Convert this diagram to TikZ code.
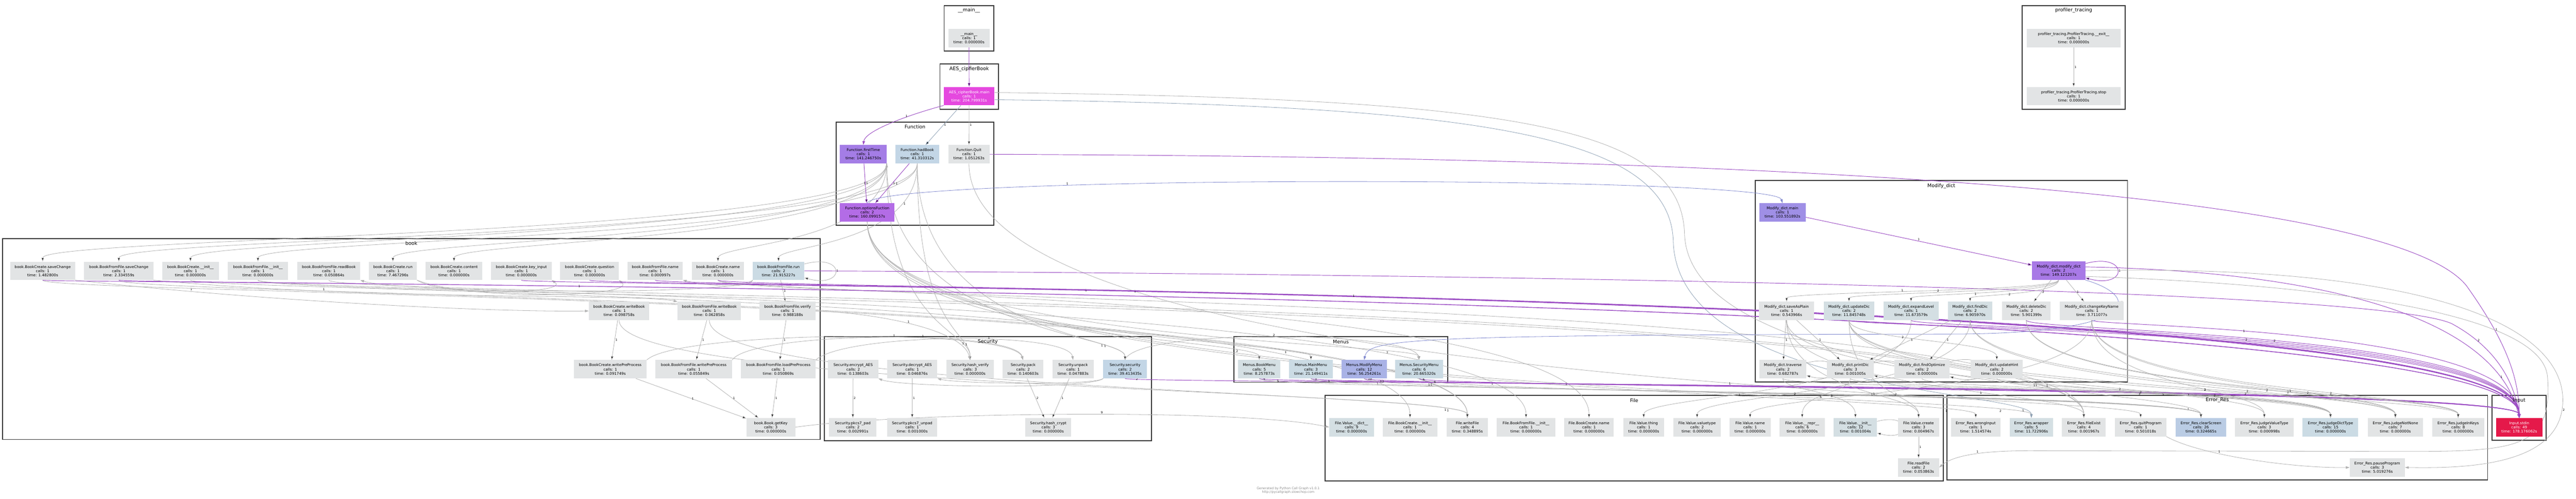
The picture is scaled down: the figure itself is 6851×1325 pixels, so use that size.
\documentclass[tikz,border=0pt]{standalone}
\usepackage{fontspec}
\setmainfont{DejaVu Sans}
\usetikzlibrary{arrows.meta}
\definecolor{ngrey}{HTML}{E2E4E5}
\definecolor{nblue1}{HTML}{D4DFE3}
\definecolor{nblue2}{HTML}{CBDBE4}
\definecolor{nblue3}{HTML}{C3D6E6}
\definecolor{nclear}{HTML}{BACCE4}
\definecolor{nmodmenu}{HTML}{A9B2E6}
\definecolor{nmdtop}{HTML}{9F8FE6}
\definecolor{nfirst}{HTML}{A47DE6}
\definecolor{nmdmod}{HTML}{A879E6}
\definecolor{nopt}{HTML}{B36CE6}
\definecolor{naes}{HTML}{E548DF}
\definecolor{nstdin}{HTML}{E5194A}
\definecolor{egrey}{HTML}{B2B2B2}
\definecolor{epurple}{HTML}{9C4DC4}
\definecolor{eslate}{HTML}{8FA2B6}
\definecolor{eblue}{HTML}{8088CF}
\definecolor{cframe}{HTML}{383838}
\pgfdeclarelayer{back}
\pgfdeclarelayer{links}
\pgfsetlayers{back,links,main}
\begin{document}
\begin{tikzpicture}[x=1pt, y=-1pt,
    fn/.style={rectangle, fill=ngrey, minimum height=49, inner sep=0, align=center, font=\fontsize{9.9}{11}\selectfont},
    clus/.style={draw=cframe, line width=2.4},
    clab/.style={font=\fontsize{13}{15}\selectfont},
    wire/.style={draw=egrey, line width=1.1, -{Triangle[length=10pt,width=6.5pt]}},
    wirep/.style={wire, draw=epurple, line width=1.3},
    wiresl/.style={wire, draw=eslate},
    wireb/.style={wire, draw=eblue},
    lab/.style={font=\fontsize{8}{9}\selectfont, inner sep=1.5, right},
    chan/.style={to path={.. controls (\tikztostart |- 0,#1) and (\tikztotarget |- 0,#1) .. (\tikztotarget) \tikztonodes}},
    every loop/.style={min distance=18}]
\useasboundingbox (0,0) rectangle (6851,1325);

\begin{pgfonlayer}{back}
\fill [white] (0,0) rectangle (6851,1325);
\draw [clus] (2511,15) rectangle (2643,136);
\draw [clus] (2500,170) rectangle (2655,290);
\draw [clus] (2224,325) rectangle (2643,599);
\draw [clus] (7,634) rectangle (2181,1168);
\draw [clus] (2192,895) rectangle (3062,1171);
\draw [clus] (3282,895) rectangle (3850,1016);
\draw [clus] (3524,1051) rectangle (5168,1278);
\draw [clus] (4668,480) rectangle (5658,1015);
\draw [clus] (5178,1051) rectangle (6616,1276);
\draw [clus] (6628,1051) rectangle (6771,1170);
\draw [clus] (5378,15) rectangle (5652,290);
\end{pgfonlayer}

\node (tMain) [clab] at (2577,28) {\_\_main\_\_};
\node (tAES) [clab] at (2577.5,183) {AES\_cipherBook};
\node (tFunc) [clab] at (2433.5,337) {Function};
\node (tBook) [clab] at (1094,647) {book};
\node (tSec) [clab] at (2627,908) {Security};
\node (tMenus) [clab] at (3566,908) {Menus};
\node (tFile) [clab] at (4346,1064) {File};
\node (tMod) [clab] at (5163,494) {Modify\_dict};
\node (tErr) [clab] at (5897,1064) {Error\_Res};
\node (tIn) [clab] at (6699.5,1064) {Input};
\node (tProf) [clab] at (5515,28) {profiler\_tracing};

\node (nmain) [fn, minimum width=110] at (2577,101) {\_\_main\_\_\\calls: 1\\time: 0.000000s};
\node (aes) [fn, fill=naes, text=white, minimum width=135] at (2577.5,255.5) {AES\_cipherBook.main\\calls: 1\\time: 204.799931s};
\node (first) [fn, fill=nfirst, minimum width=124] at (2296,410) {Function.firstTime\\calls: 1\\time: 141.246750s};
\node (had) [fn, fill=nblue3, minimum width=117] at (2439.5,410) {Function.hadBook\\calls: 1\\time: 41.310312s};
\node (quit) [fn, minimum width=110] at (2577,410) {Function.Quit\\calls: 1\\time: 1.051263s};
\node (opt) [fn, fill=nopt, minimum width=145] at (2306.5,564.5) {Function.optionsFuction\\calls: 2\\time: 160.099157s};

\node (ptA) [fn, minimum width=250] at (5515,101) {profiler\_tracing.ProfilerTracing.\_\_exit\_\_\\calls: 1\\time: 0.000000s};
\node (ptB) [fn, minimum width=250] at (5515,255.5) {profiler\_tracing.ProfilerTracing.stop\\calls: 1\\time: 0.000000s};

\node (bkcsave) [fn, minimum width=173] at (113.5,720) {book.BookCreate.saveChange\\calls: 1\\time: 1.482800s};
\node (bkfsave) [fn, minimum width=184] at (316,720) {book.BookFromFile.saveChange\\calls: 1\\time: 2.334559s};
\node (bkcinit) [fn, minimum width=151] at (506.5,720) {book.BookCreate.\_\_init\_\_\\calls: 1\\time: 0.000000s};
\node (bkfinit) [fn, minimum width=160] at (686,720) {book.BookFromFile.\_\_init\_\_\\calls: 1\\time: 0.000000s};
\node (bkfread) [fn, minimum width=167] at (874.5,720) {book.BookFromFile.readBook\\calls: 1\\time: 0.050864s};
\node (bkcrun) [fn, minimum width=128] at (1045,720) {book.BookCreate.run\\calls: 1\\time: 7.467296s};
\node (bkccont) [fn, minimum width=151] at (1207.5,720) {book.BookCreate.content\\calls: 1\\time: 0.000000s};
\node (bkckey) [fn, minimum width=161] at (1386.5,720) {book.BookCreate.key\_input\\calls: 1\\time: 0.000000s};
\node (bkcques) [fn, minimum width=156] at (1568,720) {book.BookCreate.question\\calls: 1\\time: 0.000000s};
\node (bkfname) [fn, minimum width=147] at (1742.5,720) {book.BookFromFile.name\\calls: 1\\time: 0.000997s};
\node (bkcname) [fn, minimum width=139] at (1909.5,720) {book.BookCreate.name\\calls: 1\\time: 0.000000s};
\node (bkfrun) [fn, fill=nblue2, minimum width=137] at (2070.5,720) {book.BookFromFile.run\\calls: 2\\time: 21.915227s};
\node (bkcwrite) [fn, minimum width=161] at (1646.5,826.5) {book.BookCreate.writeBook\\calls: 1\\time: 0.098758s};
\node (bkfwrite) [fn, minimum width=169] at (1886.5,826.5) {book.BookFromFile.writeBook\\calls: 1\\time: 0.062858s};
\node (bkfver) [fn, minimum width=149] at (2094.5,826.5) {book.BookFromFile.verify\\calls: 1\\time: 0.988188s};
\node (bkcpre) [fn, minimum width=194] at (1623,981.5) {book.BookCreate.writePreProcess\\calls: 1\\time: 0.091749s};
\node (bkfpre) [fn, minimum width=204] at (1845,981.5) {book.BookFromFile.writePreProcess\\calls: 1\\time: 0.055849s};
\node (bkfload) [fn, minimum width=198] at (2070,981.5) {book.BookFromFile.loadPreProcess\\calls: 1\\time: 0.050869s};
\node (bkx) [fn, minimum width=130] at (2050,1135.5) {book.Book.getKey\\calls: 3\\time: 0.000000s};

\node (secenc) [fn, minimum width=134] at (2269,981.5) {Security.encrypt\_AES\\calls: 2\\time: 0.138603s};
\node (secdec) [fn, minimum width=134] at (2426,981.5) {Security.decrypt\_AES\\calls: 1\\time: 0.046876s};
\node (sechver) [fn, minimum width=126] at (2580,981.5) {Security.hash\_verify\\calls: 3\\time: 0.000000s};
\node (secpack) [fn, minimum width=108] at (2721,981.5) {Security.pack\\calls: 2\\time: 0.140603s};
\node (secunpack) [fn, minimum width=110] at (2854,981.5) {Security.unpack\\calls: 1\\time: 0.047883s};
\node (secsec) [fn, fill=nblue3, minimum width=116] at (2992,981.5) {Security.security\\calls: 2\\time: 39.413435s};
\node (secpad) [fn, minimum width=126] at (2268,1135.5) {Security.pkcs7\_pad\\calls: 2\\time: 0.002991s};
\node (secunpad) [fn, minimum width=134] at (2426,1135.5) {Security.pkcs7\_unpad\\calls: 1\\time: 0.001000s};
\node (sechcrypt) [fn, minimum width=122] at (2788,1135.5) {Security.hash\_crypt\\calls: 3\\time: 0.000000s};

\node (mnbook) [fn, fill=nblue1, minimum width=112] at (3349,981.5) {Menus.BookMenu\\calls: 5\\time: 8.257873s};
\node (mnmain) [fn, fill=nblue2, minimum width=117] at (3486.5,981.5) {Menus.MainMenu\\calls: 3\\time: 21.149411s};
\node (mnmod) [fn, fill=nmodmenu, minimum width=120] at (3628,981.5) {Menus.ModifyMenu\\calls: 12\\time: 56.254261s};
\node (mnsec) [fn, fill=nblue2, minimum width=128] at (3774,981.5) {Menus.SecurityMenu\\calls: 6\\time: 20.665320s};

\node (flvdict) [fn, fill=nblue1, minimum width=119] at (3594.5,1135.5) {File.Value.\_\_dict\_\_\\calls: 9\\time: 0.000000s};
\node (flcinit) [fn, minimum width=146] at (3750,1135.5) {File.BookCreate.\_\_init\_\_\\calls: 1\\time: 0.000000s};
\node (flwrite) [fn, minimum width=109] at (3902.5,1135.5) {File.writeFile\\calls: 4\\time: 0.348895s};
\node (flfinit) [fn, minimum width=155] at (4058.5,1135.5) {File.BookFromFile.\_\_init\_\_\\calls: 1\\time: 0.000000s};
\node (flcname) [fn, minimum width=132] at (4226,1135.5) {File.BookCreate.name\\calls: 1\\time: 0.000000s};
\node (flvthing) [fn, minimum width=109] at (4371.5,1135.5) {File.Value.thing\\calls: 1\\time: 0.000000s};
\node (flvtype) [fn, minimum width=125] at (4513.5,1135.5) {File.Value.valuetype\\calls: 2\\time: 0.000000s};
\node (flvname) [fn, minimum width=109] at (4654.5,1135.5) {File.Value.name\\calls: 1\\time: 0.000000s};
\node (flvrepr) [fn, minimum width=120] at (4793,1135.5) {File.Value.\_\_repr\_\_\\calls: 6\\time: 0.000000s};
\node (flvinit) [fn, fill=nblue1, minimum width=115] at (4934.5,1135.5) {File.Value.\_\_init\_\_\\calls: 12\\time: 0.001004s};
\node (flvcreate) [fn, minimum width=109] at (5102.5,1135.5) {File.Value.create\\calls: 3\\time: 0.004967s};
\node (flread) [fn, minimum width=109] at (5102.5,1242.5) {File.readFile\\calls: 2\\time: 0.053863s};

\node (mtop) [fn, fill=nmdtop, minimum width=123] at (4740.5,564.5) {Modify\_dict.main\\calls: 1\\time: 103.551892s};
\node (mmod) [fn, fill=nmdmod, minimum width=142] at (5475,719.5) {Modify\_dict.modify\_dict\\calls: 2\\time: 149.121207s};
\node (msave) [fn, minimum width=147] at (4751.5,826.5) {Modify\_dict.saveAsPlain\\calls: 1\\time: 0.543966s};
\node (mupd) [fn, fill=nblue1, minimum width=135] at (4917.5,826.5) {Modify\_dict.updateDic\\calls: 2\\time: 11.845748s};
\node (mexp) [fn, fill=nblue1, minimum width=147] at (5082.5,826.5) {Modify\_dict.expandLevel\\calls: 1\\time: 11.673579s};
\node (mfind) [fn, fill=nblue1, minimum width=117] at (5239.5,826.5) {Modify\_dict.findDic\\calls: 2\\time: 6.905970s};
\node (mdel) [fn, minimum width=130] at (5389,826.5) {Modify\_dict.deleteDic\\calls: 2\\time: 5.901399s};
\node (mchkey) [fn, minimum width=170] at (5563,826.5) {Modify\_dict.changeKeyName\\calls: 1\\time: 3.711077s};
\node (mtrav) [fn, minimum width=125] at (4741.5,981.5) {Modify\_dict.traverse\\calls: 2\\time: 0.682787s};
\node (mprint) [fn, minimum width=124] at (4921,981.5) {Modify\_dict.printDic\\calls: 3\\time: 0.001005s};
\node (mfopt) [fn, minimum width=147] at (5111.5,981.5) {Modify\_dict.findOptimize\\calls: 2\\time: 0.000000s};
\node (mhint) [fn, minimum width=139] at (5310.5,981.5) {Modify\_dict.updateHint\\calls: 2\\time: 0.000000s};

\node (erwrong) [fn, minimum width=131] at (5254.5,1135.5) {Error\_Res.wrongInput\\calls: 1\\time: 1.514574s};
\node (erwrap) [fn, fill=nblue1, minimum width=115] at (5402.5,1135.5) {Error\_Res.wrapper\\calls: 5\\time: 11.722906s};
\node (erexist) [fn, minimum width=116] at (5542,1135.5) {Error\_Res.fileExist\\calls: 4\\time: 0.001967s};
\node (erquit) [fn, minimum width=136] at (5693,1135.5) {Error\_Res.quitProgram\\calls: 1\\time: 0.501018s};
\node (erclear) [fn, fill=nclear, minimum width=135] at (5853.5,1135.5) {Error\_Res.clearScreen\\calls: 26\\time: 0.324665s};
\node (erjval) [fn, minimum width=156] at (6022,1135.5) {Error\_Res.judgeValueType\\calls: 3\\time: 0.000998s};
\node (erjdict) [fn, fill=nblue2, minimum width=148] at (6198,1135.5) {Error\_Res.judgeDictType\\calls: 15\\time: 0.000000s};
\node (erjnone) [fn, minimum width=147] at (6370.5,1135.5) {Error\_Res.judgeNotNone\\calls: 7\\time: 0.000000s};
\node (erjkeys) [fn, minimum width=139] at (6537.5,1135.5) {Error\_Res.judgeInKeys\\calls: 8\\time: 0.000000s};
\node (erpause) [fn, minimum width=147] at (6322.5,1242.5) {Error\_Res.pauseProgram\\calls: 3\\time: 5.019276s};

\node (instdin) [fn, fill=nstdin, text=white, minimum width=124] at (6700,1135.5) {Input.stdin\\calls: 49\\time: 178.176062s};

\node (credit) [font=\fontsize{8.5}{10}\selectfont, text=black!45, align=center] at (3426,1303) {Generated by Python Call Graph v1.0.1\\http://pycallgraph.slowchop.com};

\begin{pgfonlayer}{links}
\path [wire] (first.south east) edge [chan=628] node [lab, pos=.1] {1} (bkcsave)
             (first.south east) edge [chan=632] (bkcinit)
             (first.south east) edge [chan=636] (bkcrun)
             (first.south east) edge [chan=640] (bkccont)
             (first.south east) edge [chan=648] (bkcname)
             (had) edge [chan=630] node [lab, pos=.1] {1} (bkfsave)
             (had) edge [chan=634] (bkfinit)
             (had) edge [chan=652] node [lab, pos=.2] {1} (bkfrun)
             (opt) edge [chan=900] node [lab, pos=.85] {2} (mnbook)
             (opt) edge [chan=905] node [lab, pos=.85] {1} (mnmain)
             (opt) edge [chan=910] node [lab, pos=.85] {2} (mnsec)
             (opt) edge [chan=1045] node [lab, pos=.9] {1} (erwrong)
             (opt) edge [chan=1047] node [lab, pos=.9] {2} (erwrap)
             (first.south east) edge [chan=875] node [lab, pos=.8] {1} (sechver)
             (had) edge [chan=880] node [lab, pos=.8] {1} (sechver)
             (first.south east) edge [chan=885] node [lab, pos=.8] {1} (secsec)
             (had) edge [chan=890] node [lab, pos=.8] {1} (secsec)
             (quit) edge [chan=1045] node [lab, pos=.6] {1} (erquit);

\path [wire] (bkfrun) edge [loop right] node [lab] {1} ()
             (bkfrun) edge node [lab] {1} (bkfver)
             (bkfver) edge node [lab] {1} (bkfload)
             (bkcwrite) edge node [lab] {1} (bkcpre)
             (bkfwrite) edge node [lab] {1} (bkfpre)
             (bkcpre) edge node [lab] {1} (bkx)
             (bkfpre) edge node [lab] {1} (bkx)
             (bkfload) edge node [lab] {1} (bkx)
             (secenc) edge node [lab] {2} (secpad)
             (secdec) edge node [lab] {1} (secunpad)
             (secpack) edge node [lab] {2} (sechcrypt)
             (secunpack) edge node [lab] {1} (sechcrypt)
             (flvcreate) edge node [lab] {1} (flread)
             (flvinit) edge [loop right] node [lab] {6} ()
             (ptA) edge node [lab] {1} (ptB);

\draw [wire] (bkfrun.south west) .. controls (1950,790) and (1050,775) .. (bkfread.south east);
\draw [wire] (bkfrun.south west) .. controls (1990,768) and (1880,760) .. (bkfname.south east);
\draw [wire] (bkcrun.south east) .. controls (1180,790) and (1520,780) .. (bkckey.south east);
\draw [wire] (bkcrun.south east) .. controls (1250,800) and (1700,790) .. (bkcques.south east);
\draw [wire] (bkcsave.south east) .. controls (700,800) and (1300,830) .. node [lab, pos=.2, above] {1} (bkcwrite.west);
\draw [wire] (bkfsave.south east) .. controls (1000,800) and (1700,780) .. node [lab, pos=.25, above] {1} (bkfwrite.north west);
\draw [wire] (bkcpre.north east) .. controls (1800,880) and (2690,870) .. node [lab, pos=.6, above] {1} (secpack.north);
\draw [wire] (bkfpre.north east) .. controls (2000,880) and (2700,875) .. node [lab, pos=.6, above] {1} (secpack.north);
\draw [wire] (bkfload.north east) .. controls (2250,885) and (2840,880) .. node [lab, pos=.6, above] {1} (secunpack.north);
\draw [wire] (bkfver.east) .. controls (2300,830) and (2560,870) .. node [lab, pos=.5, above] {1} (sechver.north);
\draw [wire] (secsec.south west) .. controls (2900,1035) and (2400,1030) .. (secenc.south east);
\draw [wire] (secsec.south west) .. controls (2910,1025) and (2550,1020) .. (secdec.south east);
\draw [wire] (secsec.north) .. controls (3020,870) and (3760,880) .. node [lab, pos=.5, above] {2} (mnsec.north);
\draw [wire] (bkx.east) .. controls (2400,1095) and (3300,1085) .. node [lab, pos=.55, above] {9} (flvdict.west);

\path [wire] (bkcinit) edge [chan=775] node [lab, pos=.9] {1} (flcinit)
             (bkfinit) edge [chan=778] node [lab, pos=.9] {1} (flfinit)
             (bkcname) edge [chan=781] node [lab, pos=.9] {1} (flcname)
             (bkcwrite) edge [chan=1036] node [lab, pos=.9] {1} (flwrite)
             (bkfwrite) edge [chan=1040] node [lab, pos=.9] {1} (flwrite)
             (bkcsave) edge [chan=784] node [lab, pos=.9] {1} (flwrite)
             (bkfsave) edge [chan=787] node [lab, pos=.9] {1} (flwrite)
             (bkfread) edge [chan=790] node [lab, pos=.9] {1} (erexist)
             (bkfinit) edge [chan=793] node [lab, pos=.9] {1} (erexist)
             (bkcname) edge [chan=796] node [lab, pos=.9] {1} (erexist);

\path [wirep] (nmain) edge node [lab] {1} (aes)
              (first) edge node [lab] {1} (opt)
              (had) edge node [lab] {1} (opt)
              (mtop) edge node [lab, above] {1} (mmod)
              (mmod) edge [loop right] node [lab] {1} ();
\draw [wirep] (aes.south west) .. controls (2400,310) and (2300,350) .. node [lab, pos=.3, left] {1} (first.north);
\path [wiresl] (aes) edge node [lab] {1} (had);
\path [wire] (aes) edge node [lab] {1} (quit);
\draw [wireb] (opt.north) .. controls (2330,465) and (4720,465) .. node [lab, pos=.3, above] {1} (mtop.north);
\draw [wire] (aes.8) .. controls (4000,262) and (4470,330) .. (4480,620) .. controls (4490,1040) and (5853,1030) .. node [lab, pos=.9] {1} (erclear.north);
\draw [wiresl] (aes.-8) .. controls (3900,280) and (4440,350) .. (4450,640) .. controls (4460,1045) and (5402,1040) .. node [lab, pos=.9] {1} (erwrap.north);
\draw [wirep] (quit.east) .. controls (3600,415) and (6300,430) .. (6560,760) .. controls (6660,900) and (6700,1000) .. node [lab, pos=.3] {1} (instdin.north);

\path [wirep] (bkcsave) edge [chan=755] node [lab, pos=.3] {1} (instdin)
              (bkfsave) edge [chan=758] (instdin)
              (bkckey) edge [chan=762] node [lab, pos=.35] {1} (instdin)
              (bkcques) edge [chan=765] node [lab, pos=.35] {1} (instdin)
              (bkfname) edge [chan=768] (instdin)
              (bkcname) edge [chan=771] node [lab, pos=.4] {1} (instdin)
              (mnbook) edge [chan=1022] node [lab, pos=.03] {5} (instdin)
              (mnmain) edge [chan=1025] node [lab, pos=.03] {3} (instdin)
              (mnmod) edge [chan=1028] node [lab, pos=.03] {12} (instdin)
              (mnsec) edge [chan=1031] node [lab, pos=.03] {6} (instdin)
              (secsec) edge [chan=1019] node [lab, pos=.05] {2} (instdin)
              (mupd) edge [chan=872] (instdin)
              (mexp) edge [chan=875] (instdin)
              (mfind) edge [chan=878] node [lab, pos=.5] {2} (instdin)
              (mdel) edge [chan=881] node [lab, pos=.5] {2} (instdin)
              (mchkey) edge [chan=868] node [lab, pos=.4] {1} (instdin);
\draw [wirep] (bkfrun.east) .. controls (2600,722) and (6250,740) .. (6520,860) .. controls (6650,930) and (6690,1030) .. node [lab, pos=.2] {2} (instdin.north);
\draw [wirep] (mmod.8) .. controls (6200,722) and (6640,850) .. node [lab, pos=.85] {1} (instdin.north);

\path [wire] (mnbook) edge [chan=1038] node [lab, pos=.08] {5} (erclear)
             (mnmain) edge [chan=1041] node [lab, pos=.08] {3} (erclear)
             (mnmod) edge [chan=1044] node [lab, pos=.08] {12} (erclear)
             (mnsec) edge [chan=1047] node [lab, pos=.08] {6} (erclear);
\draw [wireb] (mmod.south east) .. controls (5700,790) and (5690,885) .. node [lab, pos=.35] {12} (5200,888) .. controls (3750,890) and (3640,900) .. (mnmod.north);

\path [wire] (mmod) edge [chan=775] node [lab, pos=.55, above] {1} (msave)
             (mmod) edge [chan=778] node [lab, pos=.55, above] {2} (mupd)
             (mmod) edge [chan=781] node [lab, pos=.55] {1} (mexp)
             (mmod) edge [chan=784] node [lab, pos=.55] {2} (mfind)
             (mmod) edge node [lab, pos=.55] {2} (mdel)
             (mmod) edge node [lab, pos=.55] {1} (mchkey)
             (msave) edge node [lab] {1} (mtrav)
             (msave) edge node [lab] {1} (mprint)
             (mfind) edge node [lab] {1} (mprint)
             (mfind) edge node [lab] {1} (mfopt)
             (mupd) edge [chan=905] node [lab, pos=.4] {2} (mhint)
             (mtrav) edge [loop right] node [lab] {1} ()
             (mprint) edge [loop right] node [lab] {1} ()
             (mfopt) edge [loop right] node [lab] {1} ();

\path [wire] (mfind) edge [chan=1040] node [lab, pos=.6] {2} (erjkeys)
             (mdel) edge [chan=1042] node [lab, pos=.6] {2} (erjkeys)
             (mchkey) edge [chan=1044] node [lab, pos=.6] {2} (erjkeys)
             (mupd) edge [chan=1046] node [lab, pos=.6] {2} (erjkeys)
             (mtrav) edge [chan=1032] node [lab, pos=.6] {3} (erjdict)
             (mprint) edge [chan=1034] node [lab, pos=.6] {5} (erjdict)
             (mfopt) edge [chan=1036] node [lab, pos=.6] {3} (erjdict)
             (mhint) edge [chan=1038] node [lab, pos=.6] {2} (erjdict)
             (msave) edge [chan=1040] node [lab, pos=.6] {2} (erjdict)
             (mupd) edge [chan=1030] node [lab, pos=.6] {2} (erjnone)
             (mdel) edge [chan=1032] node [lab, pos=.6] {2} (erjnone)
             (mchkey) edge [chan=1034] node [lab, pos=.6] {1} (erjnone)
             (mfind) edge [chan=1036] node [lab, pos=.6] {2} (erjnone)
             (mupd) edge [chan=1028] node [lab, pos=.6] {2} (erjval)
             (mchkey) edge [chan=1030] node [lab, pos=.6] {1} (erjval)
             (msave) edge [chan=1042] node [lab, pos=.6] {1} (erexist)
             (mtrav) edge [chan=1040] node [lab, pos=.6] {6} (flvinit)
             (mprint) edge [chan=1044] node [lab, pos=.6] {6} (flvrepr)
             (mfind) edge [chan=1046] node [lab, pos=.6] {2} (flvtype)
             (mchkey) edge [chan=1048] node [lab, pos=.6] {1} (flvname)
             (mexp) edge [chan=1050] node [lab, pos=.6] {1} (flvthing)
             (msave) edge [chan=1046] node [lab, pos=.6] {1} (flvcreate)
             (mupd) edge [chan=1048] node [lab, pos=.6] {2} (flvcreate);

\draw [wire] (mmod.-12) .. controls (6300,760) and (6760,850) .. (6775,1000) .. controls (6790,1190) and (6700,1200) .. (6400,1200) -- (5400,1198) .. controls (5250,1198) and (5190,1215) .. node [lab, pos=.4, above] {1} (flread.east);
\draw [wire] (mmod.east) .. controls (6500,700) and (6835,880) .. (6815,1080) .. controls (6800,1240) and (6550,1245) .. node [lab, pos=.02] {2} (erpause.east);
\draw [wire] (erquit.south east) .. controls (5850,1210) and (6100,1245) .. node [lab, pos=.35, above] {1} (erpause.west);
\end{pgfonlayer}
\end{tikzpicture}
\end{document}
